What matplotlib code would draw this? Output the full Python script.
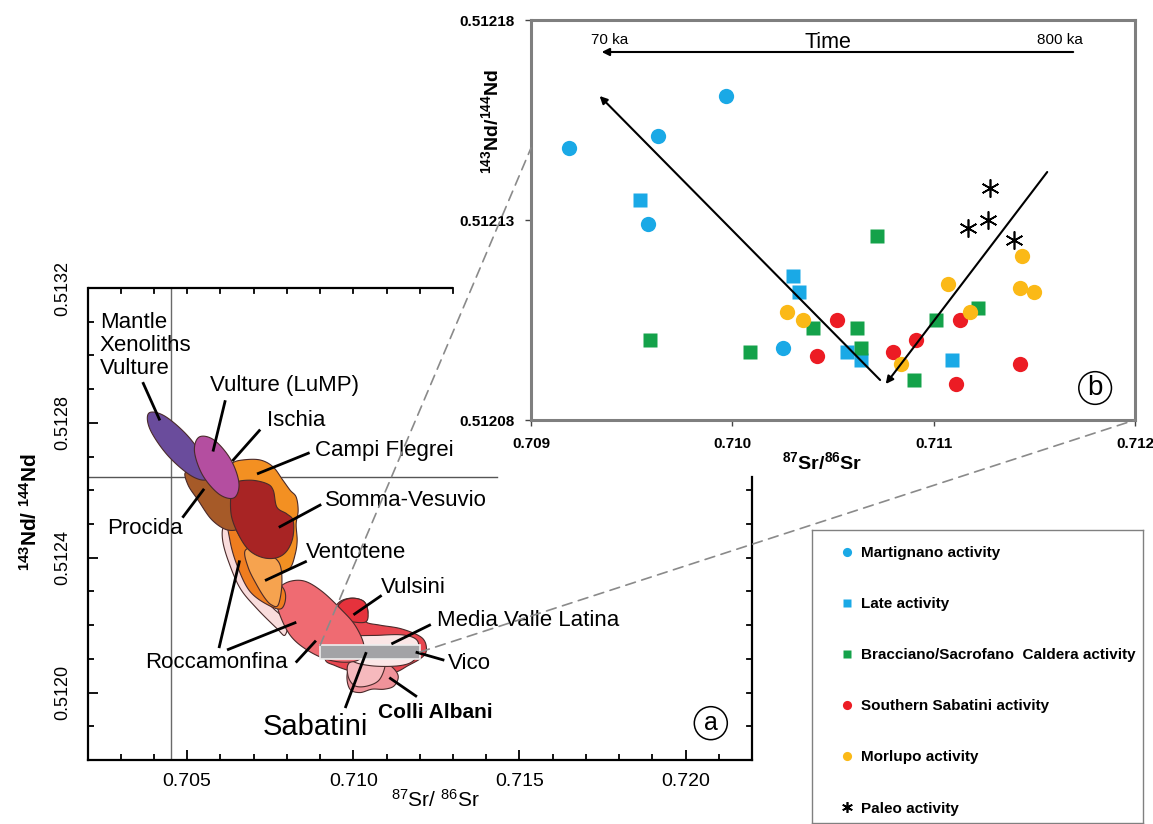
import numpy as np
import matplotlib
matplotlib.use('Agg')
import matplotlib.pyplot as plt
from matplotlib.patches import Polygon, ConnectionPatch, Rectangle

plt.rcParams['font.family'] = ['Liberation Sans', 'DejaVu Sans']
plt.rcParams['mathtext.fontset'] = 'custom'
plt.rcParams['mathtext.rm'] = 'Liberation Sans'
plt.rcParams['mathtext.bf'] = 'Liberation Sans:bold'
plt.rcParams['mathtext.it'] = 'Liberation Sans:italic'

# ---------------- Panel b data (87Sr/86Sr, 143Nd/144Nd) ----------------
martignano_sr = [0.70919, 0.70963, 0.70997, 0.70958, 0.71025]
martignano_nd = [0.512148, 0.512151, 0.512161, 0.512129, 0.512098]
late_sr = [0.70954, 0.71030, 0.71033, 0.71057, 0.71064, 0.71109]
late_nd = [0.512135, 0.512116, 0.512112, 0.512097, 0.512095, 0.512095]
bracciano_sr = [0.70959, 0.71009, 0.71040, 0.71062, 0.71064, 0.71072, 0.71090, 0.71101, 0.71122]
bracciano_nd = [0.512100, 0.512097, 0.512103, 0.512103, 0.512098, 0.512126, 0.512090, 0.512105, 0.512108]
southern_sr = [0.71042, 0.71052, 0.71080, 0.71091, 0.71111, 0.71113, 0.71143]
southern_nd = [0.512096, 0.512105, 0.512097, 0.512100, 0.512089, 0.512105, 0.512094]
morlupo_sr = [0.71027, 0.71035, 0.71084, 0.71107, 0.71118, 0.71144, 0.71143, 0.71150]
morlupo_nd = [0.512107, 0.512105, 0.512094, 0.512114, 0.512107, 0.512121, 0.512113, 0.512112]
paleo_sr = [0.71128, 0.71127, 0.71117, 0.71140]
paleo_nd = [0.512138, 0.512130, 0.512128, 0.512125]

legend_labels = ['Martignano activity', 'Late activity', 'Bracciano/Sacrofano  Caldera activity',
                 'Southern Sabatini activity', 'Morlupo activity', 'Paleo activity']

b_xticks = [0.709, 0.710, 0.711, 0.712]
b_xticklabels = ['0.709', '0.710', '0.711', '0.712']
b_yticks = [0.51208, 0.51213, 0.51218]
b_yticklabels = ['0.51208', '0.51213', '0.51218']

# trend arrows in panel b: (tail, head)
arrow_young = [(0.710734, 0.512090), (0.709341, 0.512161)]
arrow_old = [(0.711564, 0.512142), (0.710762, 0.512089)]
time_arrow = [(0.711693, 0.512172), (0.709351, 0.512172)]

# ---------------- Panel a data: fields (87Sr/86Sr, 143Nd/144Nd) ----------------
pale_field = [(0.70609, 0.51249), (0.70634, 0.51248), (0.70659, 0.51237), (0.70709, 0.51230),
              (0.70759, 0.51225), (0.70800, 0.51221), (0.70794, 0.51217), (0.70770, 0.51219),
              (0.70709, 0.51225), (0.70659, 0.51231), (0.70624, 0.51239), (0.70607, 0.51245)]
vico_field = [(0.70939, 0.51224), (0.70960, 0.51227), (0.70996, 0.51228), (0.71032, 0.51227),
              (0.71044, 0.51224), (0.71038, 0.51221), (0.71080, 0.51220), (0.71141, 0.51219),
              (0.71195, 0.51217), (0.71216, 0.51215), (0.71219, 0.51212), (0.71201, 0.51210),
              (0.71165, 0.51208), (0.71126, 0.51206), (0.71065, 0.51205), (0.71005, 0.51206),
              (0.70945, 0.51208), (0.70915, 0.51210), (0.70930, 0.51216), (0.70936, 0.51220)]
vulsini_field = [(0.70945, 0.51224), (0.70966, 0.51227), (0.70999, 0.51228), (0.71032, 0.51227),
                 (0.71044, 0.51224), (0.71038, 0.51221), (0.70996, 0.51221), (0.70960, 0.51222)]
colli_albani_field = [(0.70996, 0.51209), (0.71035, 0.51210), (0.71074, 0.51209), (0.71111, 0.51208),
                      (0.71135, 0.51205), (0.71123, 0.51202), (0.71093, 0.51201), (0.71056, 0.51201),
                      (0.71020, 0.51200), (0.70990, 0.51201), (0.70981, 0.51205)]
sabatini_low_field = [(0.70990, 0.51209), (0.71056, 0.51210), (0.71095, 0.51209), (0.71080, 0.51204),
                      (0.71044, 0.51202), (0.71005, 0.51202), (0.70984, 0.51205)]
mvl_field = [(0.70975, 0.51216), (0.71080, 0.51217), (0.71156, 0.51217), (0.71195, 0.51215),
             (0.71186, 0.51210), (0.71141, 0.51208), (0.71050, 0.51208), (0.70990, 0.51210)]
roccamonfina_field = [(0.70776, 0.51231), (0.70810, 0.51233), (0.70855, 0.51233), (0.70906, 0.51230),
                      (0.70960, 0.51225), (0.71005, 0.51220), (0.71032, 0.51214), (0.71020, 0.51210),
                      (0.70975, 0.51209), (0.70915, 0.51210), (0.70855, 0.51213), (0.70810, 0.51217),
                      (0.70779, 0.51223), (0.70767, 0.51228)]
orange_band = [(0.70617, 0.51256), (0.70683, 0.51251), (0.70725, 0.51244), (0.70749, 0.51236),
               (0.70794, 0.51230), (0.70785, 0.51225), (0.70743, 0.51226), (0.70689, 0.51230),
               (0.70653, 0.51237), (0.70629, 0.51245)]
campi_flegrei_field = [(0.70635, 0.51268), (0.70668, 0.51269), (0.70719, 0.51269), (0.70758, 0.51267),
                       (0.70788, 0.51263), (0.70810, 0.51260), (0.70828, 0.51258), (0.70834, 0.51254),
                       (0.70828, 0.51250), (0.70831, 0.51245), (0.70825, 0.51241), (0.70810, 0.51237),
                       (0.70779, 0.51236), (0.70725, 0.51238), (0.70674, 0.51244), (0.70635, 0.51251),
                       (0.70617, 0.51259), (0.70617, 0.51265)]
ventotene_field = [(0.70674, 0.51242), (0.70709, 0.51243), (0.70749, 0.51241), (0.70779, 0.51238),
                   (0.70785, 0.51232), (0.70774, 0.51226), (0.70754, 0.51226), (0.70734, 0.51228),
                   (0.70709, 0.51232), (0.70684, 0.51237)]
procida_field = [(0.704965, 0.512654), (0.705537, 0.512636), (0.706349, 0.512586), (0.706590, 0.512497),
                 (0.706229, 0.512482), (0.705747, 0.512512), (0.705326, 0.512571), (0.705025, 0.512616)]
somma_field = [(0.70639, 0.51262), (0.70689, 0.51263), (0.70739, 0.51262), (0.70759, 0.51260),
               (0.70770, 0.51255), (0.70800, 0.51253), (0.70819, 0.51251), (0.70818, 0.51246),
               (0.70800, 0.51242), (0.70770, 0.51240), (0.70729, 0.51240), (0.70689, 0.51242),
               (0.70659, 0.51246), (0.70634, 0.51252), (0.70631, 0.51258)]
mantle_field = [(0.705600, 0.512633), (0.705567, 0.512682), (0.705040, 0.512759), (0.704327, 0.512820),
                (0.703848, 0.512829), (0.703881, 0.512781), (0.704408, 0.512704), (0.705121, 0.512643)]
vulture_field = [(0.706416, 0.512578), (0.706557, 0.512622), (0.706307, 0.512692), (0.705810, 0.512749),
                 (0.705362, 0.512758), (0.705220, 0.512715), (0.705470, 0.512644), (0.705967, 0.512588)]

# inset box representing panel b range
inset_box_sr = [0.709, 0.712]
inset_box_nd = [0.51210, 0.51214]

# Bulk Earth reference
bulk_sr = 0.7045
chur_nd = 0.51264
chur_line_end_sr = 0.71433

# labels: text, anchor (sr, nd), leader line [(sr, nd) start, (sr, nd) end]
field_labels = [
    ('Mantle\nXenoliths\nVulture', (0.702376, 0.513128), [(0.703679, 0.512917), (0.704161, 0.512811)]),
    ('Vulture (LuMP)', (0.705687, 0.512912), [(0.706138, 0.512863), (0.705786, 0.512719)]),
    ('Ischia', (0.707403, 0.512808), [(0.707171, 0.512777), (0.706388, 0.512690)]),
    ('Campi Flegrei', (0.708847, 0.512719), [(0.708646, 0.512710), (0.707141, 0.512650)]),
    ('Somma-Vesuvio', (0.709148, 0.512571), [(0.708998, 0.512556), (0.707794, 0.512492)]),
    ('Procida', (0.702587, 0.512488), [(0.704883, 0.512522), (0.705485, 0.512601)]),
    ('Ventotene', (0.708561, 0.512414), [(0.708561, 0.512388), (0.707381, 0.512334)]),
    ('Vulsini', (0.710834, 0.512313), [(0.710819, 0.512286), (0.710039, 0.512233)]),
    ('Media Valle Latina', (0.712519, 0.512215), [(0.712296, 0.512200), (0.711183, 0.512146)]),
    ('Vico', (0.712835, 0.512085), [(0.712700, 0.512097), (0.711917, 0.512119)]),
    ('Roccamonfina', (0.703731, 0.512088), [(0.705967, 0.512136), (0.706569, 0.512388)]),
]
extra_leaders = [[(0.706238, 0.512128), (0.708245, 0.512207)],
                 [(0.708296, 0.512092), (0.708847, 0.512151)]]
colli_label = ('Colli Albani', (0.710743, 0.511940), [(0.711881, 0.511990), (0.711117, 0.512042)])
sabatini_label = ('Sabatini', (0.707282, 0.511898), [(0.709771, 0.511958), (0.710376, 0.512116)])

a_xticks = [0.705, 0.710, 0.715, 0.720]
a_xticklabels = ['0.705', '0.710', '0.715', '0.720']
a_yticks = [0.5120, 0.5124, 0.5128, 0.5132]
a_yticklabels = ['0.5120', '0.5124', '0.5128', '0.5132']


def smooth_closed(pts, n=14):
    P = np.asarray(pts, dtype=float)
    N = len(P)
    t = np.linspace(0, 1, n, endpoint=False)[:, None]
    out = []
    for i in range(N):
        p0, p1, p2, p3 = P[i - 1], P[i], P[(i + 1) % N], P[(i + 2) % N]
        out.append(0.5 * (2 * p1 + (p2 - p0) * t + (2 * p0 - 5 * p1 + 4 * p2 - p3) * t ** 2
                          + (-p0 + 3 * p1 - 3 * p2 + p3) * t ** 3))
    return np.vstack(out)


W, H = 1153, 824
fig = plt.figure(figsize=(W / 100, H / 100), dpi=100)

# ---------------- Panel a ----------------
ax_a = fig.add_axes([87.5 / W, 1 - 760 / H, 664.5 / W, 472 / H])
ax_a.set_xlim(0.702, 0.722)
ax_a.set_ylim(0.5118, 0.5132)

fields = [
    (pale_field, '#f9dcdc'), (vico_field, '#e8464f'), (vulsini_field, '#e5323c'),
    (colli_albani_field, '#f0939a'), (sabatini_low_field, '#f6b9bd'), (mvl_field, '#fbe6e6'),
    (roccamonfina_field, '#ef6b72'), (orange_band, '#ef7d1f'), (campi_flegrei_field, '#f39022'),
    (ventotene_field, '#f6a34f'), (procida_field, '#a65a28'), (somma_field, '#a82424'),
    (mantle_field, '#6a4c9c'), (vulture_field, '#b44ea0'),
]
for z, (pts, col) in enumerate(fields):
    ax_a.add_patch(Polygon(smooth_closed(pts), closed=True, fc=col, ec='#4a2a2a', lw=0.8, zorder=2 + z * 0.01))

ax_a.add_patch(Rectangle((inset_box_sr[0], inset_box_nd[0]), inset_box_sr[1] - inset_box_sr[0],
                         inset_box_nd[1] - inset_box_nd[0], fc='#a3a3a6', ec='#eeeeee', lw=1.2, zorder=3))

ax_a.axvline(bulk_sr, color='#6a6a6a', lw=1.0, zorder=1)
ax_a.plot([0.702, chur_line_end_sr], [chur_nd, chur_nd], color='#555555', lw=1.0, zorder=1, clip_on=False)

for text, pos, leader in field_labels:
    ax_a.text(pos[0], pos[1], text, fontsize=16, ha='left',
              va='top' if '\n' in text else 'center', linespacing=1.12, zorder=5)
    ax_a.plot([leader[0][0], leader[1][0]], [leader[0][1], leader[1][1]], color='black', lw=2.0, zorder=4)
for leader in extra_leaders:
    ax_a.plot([leader[0][0], leader[1][0]], [leader[0][1], leader[1][1]], color='black', lw=2.0, zorder=4)
for (text, pos, leader), fs, fw in [(colli_label, 15, 'bold'), (sabatini_label, 21, 'normal')]:
    ax_a.text(pos[0], pos[1], text, fontsize=fs, fontweight=fw, ha='left', va='center', zorder=5)
    ax_a.plot([leader[0][0], leader[1][0]], [leader[0][1], leader[1][1]], color='black', lw=2.0, zorder=4)

ax_a.set_xticks(a_xticks)
ax_a.set_xticklabels(a_xticklabels, fontsize=14)
ax_a.set_xticks(np.arange(0.703, 0.7225, 0.001), minor=True)
ax_a.set_yticks(a_yticks)
ax_a.set_yticklabels(a_yticklabels, fontsize=13, rotation=90, va='center')
ax_a.set_yticks(np.arange(0.5119, 0.51325, 0.0001), minor=True)
ax_a.tick_params(which='both', direction='in', width=1.3, top=False, right=False)
ax_a.tick_params(which='major', length=7)
ax_a.tick_params(which='minor', length=4)
ax_a.tick_params(axis='x', which='major', pad=9)
ax_a.tick_params(axis='y', which='major', pad=12)
for s in ['left', 'bottom']:
    ax_a.spines[s].set_linewidth(1.6)
ax_a.spines['top'].set_visible(False)
ax_a.spines['right'].set_visible(False)

# visible parts of top and right frame (rest hidden behind panel b area)
top_end = 0.7130
right_top = (chur_nd - 0.5118) / (0.5132 - 0.5118)
xt = ax_a.get_xaxis_transform()
yt = ax_a.get_yaxis_transform()
ax_a.plot([0.702, top_end], [1, 1], transform=xt, color='black', lw=1.6, clip_on=False, solid_capstyle='butt')
ax_a.plot([1, 1], [0, right_top], transform=ax_a.transAxes, color='black', lw=1.6, clip_on=False)
for xv in np.arange(0.703, top_end + 0.0001, 0.001):
    ax_a.plot([xv, xv], [1, 1 - 5 / 472], transform=xt, color='black', lw=1.3, clip_on=False)
for yv in np.arange(0.5119, chur_nd, 0.0001):
    ax_a.plot([1, 1 - 5 / 664.5], [yv, yv], transform=yt, color='black', lw=1.3, clip_on=False)

ax_a.text(0.523, -0.085, r'$^{87}$Sr/ $^{86}$Sr', transform=ax_a.transAxes, fontsize=15,
          ha='center', va='center')
ax_a.text(-0.0865, 0.525, r'$^{\mathbf{143}}$Nd/ $^{\mathbf{144}}$Nd', transform=ax_a.transAxes,
          fontsize=15, fontweight='bold', rotation=90, ha='center', va='center')
ax_a.text(0.938, 0.078, 'a', transform=ax_a.transAxes, fontsize=18, ha='center', va='center',
          bbox=dict(boxstyle='circle,pad=0.18', fc='white', ec='black', lw=1.1))

# ---------------- Panel b ----------------
ax_b = fig.add_axes([531 / W, 1 - 420 / H, 604 / W, 400 / H])
ax_b.set_xlim(0.709, 0.712)
ax_b.set_ylim(0.51208, 0.51218)

ms = 11
h1, = ax_b.plot(martignano_sr, martignano_nd, 'o', color='#1aa9e6', ms=ms, mec='none', zorder=3)
h2, = ax_b.plot(late_sr, late_nd, 's', color='#1aa9e6', ms=ms * 0.95, mec='none', zorder=3)
h3, = ax_b.plot(bracciano_sr, bracciano_nd, 's', color='#14a24a', ms=ms * 0.95, mec='none', zorder=3)
h4, = ax_b.plot(southern_sr, southern_nd, 'o', color='#ec1c24', ms=ms, mec='none', zorder=3)
h5, = ax_b.plot(morlupo_sr, morlupo_nd, 'o', color='#fbb917', ms=ms, mec='none', zorder=3)
h6, = ax_b.plot(paleo_sr, paleo_nd, marker=(6, 2, 0), ls='none', color='black', ms=13, mew=1.2, zorder=3)

for tail, head in [arrow_young, arrow_old, time_arrow]:
    ax_b.annotate('', xy=head, xytext=tail,
                  arrowprops=dict(arrowstyle='-|>', color='black', lw=1.5, mutation_scale=11,
                                  shrinkA=0, shrinkB=0), zorder=4)
ax_b.text(0.709391, 0.512175, '70 ka', fontsize=11, ha='center', va='center')
ax_b.text(0.710476, 0.5121745, 'Time', fontsize=15.5, ha='center', va='center')
ax_b.text(0.711629, 0.512175, '800 ka', fontsize=11, ha='center', va='center')

ax_b.set_xticks(b_xticks)
ax_b.set_xticklabels(b_xticklabels, fontsize=11, fontweight='bold')
ax_b.set_yticks(b_yticks)
ax_b.set_yticklabels(b_yticklabels, fontsize=11, fontweight='bold')
ax_b.tick_params(direction='out', length=4, width=1.0, color='#444444', pad=8)
for s in ax_b.spines.values():
    s.set_color('#7f7f7f')
    s.set_linewidth(2.2)
ax_b.text(0.482, -0.105, r'$^{\mathbf{87}}$Sr/$^{\mathbf{86}}$Sr', transform=ax_b.transAxes,
          fontsize=14, fontweight='bold', ha='center', va='center')
ax_b.text(-0.066, 0.745, r'$^{\mathbf{143}}$Nd/$^{\mathbf{144}}$Nd', transform=ax_b.transAxes,
          fontsize=14, fontweight='bold', rotation=90, ha='center', va='center')
ax_b.text(0.934, 0.08, 'b', transform=ax_b.transAxes, fontsize=20, ha='center', va='center',
          bbox=dict(boxstyle='circle,pad=0.12', fc='white', ec='black', lw=1.1))

# dashed connectors
for xyA, xyB in [((inset_box_sr[0], inset_box_nd[1]), (0.0, 0.68)),
                 ((inset_box_sr[1], 0.51212), (1.0, 0.0))]:
    con = ConnectionPatch(xyA=xyA, coordsA=ax_a.transData, xyB=xyB, coordsB=ax_b.transAxes,
                          color='#8a8a8a', lw=1.2, linestyle=(0, (6, 4)), zorder=10)
    fig.add_artist(con)

# ---------------- Legend box ----------------
ax_leg = fig.add_axes([812 / W, 1.2 / H, 331 / W, 293 / H])
ax_leg.set_xticks([])
ax_leg.set_yticks([])
for s in ax_leg.spines.values():
    s.set_color('#808080')
    s.set_linewidth(1.0)
leg = ax_leg.legend([h1, h2, h3, h4, h5, h6], legend_labels, loc='upper left',
                    bbox_to_anchor=(0.083, 0.945), frameon=False, borderpad=0, borderaxespad=0,
                    handlelength=1.0, handletextpad=0.41, labelspacing=2.43, markerscale=0.6,
                    prop={'family': 'Liberation Sans', 'weight': 'bold', 'size': 11})

fig.savefig('out.png', dpi=100)
